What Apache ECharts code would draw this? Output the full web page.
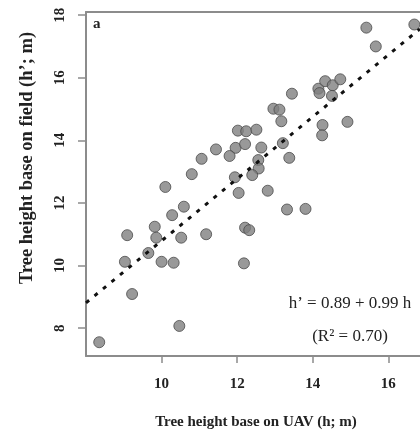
<!DOCTYPE html>
<html>
<head>
<meta charset="utf-8">
<script src="https://cdn.jsdelivr.net/npm/echarts@6/dist/echarts.min.js"></script>
<style>
  html, body { margin: 0; padding: 0; background: #fff; }
  #main { width: 420px; height: 436px; }
</style>
</head>
<body>
<div id="main"></div>
<script>
// tree height from UAV (x) and from field (y)
var uavHeight = [15.42, 15.67, 16.69, 14.15, 14.18, 14.33, 14.53, 14.51, 14.73, 13.45,
                 12.96, 13.12, 13.17, 14.92, 14.26, 14.25, 12.02, 12.24, 12.51, 11.44,
                 11.96, 12.21, 12.64, 13.21, 11.06, 11.80, 12.56, 13.38, 12.57, 12.40,
                 10.80, 11.94, 10.10, 12.04, 12.81, 10.59, 10.28, 13.32, 13.81, 9.82,
                 9.09, 9.86, 10.52, 11.18, 12.21, 12.32, 9.65, 9.03, 10.00, 10.32,
                 12.18, 9.22, 10.47, 8.35];
var fieldHeight = [17.60, 17.00, 17.70, 15.65, 15.51, 15.89, 15.76, 15.42, 15.95, 15.49,
                   15.01, 14.98, 14.61, 14.59, 14.49, 14.16, 14.31, 14.29, 14.34, 13.71,
                   13.76, 13.88, 13.77, 13.91, 13.41, 13.50, 13.37, 13.44, 13.10, 12.89,
                   12.92, 12.82, 12.51, 12.32, 12.39, 11.88, 11.61, 11.79, 11.81, 11.24,
                   10.97, 10.89, 10.89, 11.00, 11.21, 11.13, 10.40, 10.12, 10.12, 10.09,
                   10.07, 9.09, 8.07, 7.55];
// fitted line h' = 0.89 + 0.99 h, end points
var fitX = [8.0, 16.84];
var fitY = [8.81, 17.56];
var xTicks = [10, 12, 14, 16];
var yTicks = [8, 10, 12, 14, 16, 18];

var myChart = echarts.init(document.getElementById('main'));

var points = [];
for (var i = 0; i < uavHeight.length; i++) {
    points.push([uavHeight[i], fieldHeight[i]]);
}
var fitData = [];
for (var j = 0; j < fitX.length; j++) {
    fitData.push([fitX[j], fitY[j]]);
}

var boxGray = '#8c8c8c';
var serif = '"Liberation Serif", "DejaVu Serif", serif';

var option = {
    animation: false,
    grid: { left: 86, top: 12, right: 0, bottom: 80 },
    xAxis: [
        {
            type: 'value',
            min: 8, max: 16.84,
            splitLine: { show: false },
            axisLine: { show: true, lineStyle: { color: boxGray, width: 2 } },
            axisTick: { show: true, length: 7, customValues: xTicks, lineStyle: { color: boxGray, width: 1.5 } },
            axisLabel: {
                customValues: xTicks,
                margin: 21,
                color: '#222',
                fontFamily: serif,
                fontWeight: 'bold',
                fontSize: 15
            }
        },
        {
            // top edge of the box only
            type: 'value',
            position: 'top',
            min: 8, max: 16.84,
            splitLine: { show: false },
            axisLine: { show: true, lineStyle: { color: boxGray, width: 2 } },
            axisTick: { show: false },
            axisLabel: { show: false }
        }
    ],
    yAxis: {
        type: 'value',
        min: 7.11, max: 18.1,
        splitLine: { show: false },
        axisLine: { show: true, lineStyle: { color: boxGray, width: 2 } },
        axisTick: { show: true, length: 8, customValues: yTicks, lineStyle: { color: boxGray, width: 1.5 } },
        axisLabel: {
            customValues: yTicks,
            rotate: 90,
            margin: 18,
            color: '#222',
            fontFamily: serif,
            fontWeight: 'bold',
            fontSize: 15
        }
    },
    graphic: [
        {
            type: 'text', left: 93, top: 17,
            style: { text: 'a', font: 'bold 15px ' + serif, fill: '#222' }
        },
        {
            type: 'text', x: 256, y: 422,
            style: { text: 'Tree height base on UAV (h; m)', font: 'bold 15px ' + serif,
                     fill: '#222', textAlign: 'center', textVerticalAlign: 'middle' }
        },
        {
            type: 'text', x: 27, y: 158, rotation: Math.PI / 2,
            style: { text: 'Tree height base on field (h\u2019; m)', font: 'bold 18.5px ' + serif,
                     fill: '#222', textAlign: 'center', textVerticalAlign: 'middle' }
        },
        {
            type: 'text', x: 350, y: 304,
            style: { text: 'h\u2019 = 0.89 + 0.99 h', font: '17px ' + serif,
                     fill: '#222', textAlign: 'center', textVerticalAlign: 'middle' }
        },
        {
            type: 'text', x: 350, y: 337,
            style: { text: '(R\u00b2 = 0.70)', font: '17px ' + serif,
                     fill: '#222', textAlign: 'center', textVerticalAlign: 'middle' }
        }
    ],
    series: [
        {
            type: 'line',
            data: fitData,
            symbol: 'none',
            silent: true,
            lineStyle: { color: '#111', width: 3, type: [4, 7] },
            z: 3
        },
        {
            type: 'scatter',
            data: points,
            symbol: 'circle',
            symbolSize: 11,
            itemStyle: { color: '#7f7f7f', borderColor: '#4a4a4a', borderWidth: 1 },
            z: 2
        }
    ]
};
myChart.setOption(option);
</script>
</body>
</html>
